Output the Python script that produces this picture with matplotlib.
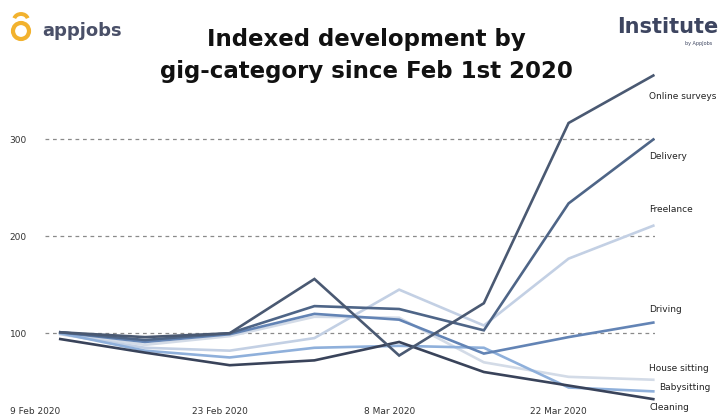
import numpy as np
import matplotlib
matplotlib.use("Agg")
import matplotlib.pyplot as plt
import matplotlib.transforms as mtransforms
from matplotlib.patches import Circle, Arc

# weekly dates
dates = ["9 Feb 2020", "16 Feb 2020", "23 Feb 2020", "1 Mar 2020",
         "8 Mar 2020", "15 Mar 2020", "22 Mar 2020", "29 Mar 2020"]

online_surveys = [101, 96, 100, 156, 77, 131, 317, 366]
delivery = [101, 93, 100, 128, 125, 103, 234, 300]
freelance = [99, 85, 82, 95, 145, 108, 177, 211]
driving = [101, 91, 99, 120, 114, 79, 96, 111]
house_sitting = [100, 88, 97, 117, 116, 70, 55, 52]
babysitting = [100, 82, 75, 85, 87, 85, 44, 40]
cleaning = [94, 80, 67, 72, 91, 60, 46, 32]

series = [
    ("House sitting", house_sitting, "#d3dbe7"),
    ("Freelance", freelance, "#c3d0e4"),
    ("Babysitting", babysitting, "#8fb0db"),
    ("Driving", driving, "#6384b5"),
    ("Delivery", delivery, "#4e6587"),
    ("Cleaning", cleaning, "#39435a"),
    ("Online surveys", online_surveys, "#4a5972"),
]
# label positions (value units), put a bit away from line ends
label_y = {"Online surveys": 344, "Delivery": 282, "Freelance": 228,
           "Driving": 124, "House sitting": 64, "Babysitting": 44,
           "Cleaning": 23}

x = np.arange(len(dates))

fig = plt.figure(figsize=(7.25, 4.17), dpi=100)
ax = fig.add_axes([45 / 725, 14 / 417, 610 / 725, 343 / 417])

for name, vals, col in series:
    ax.plot(x, vals, color=col, lw=1.9, solid_joinstyle="miter", zorder=3)

for v in [100, 200, 300]:
    ax.axhline(v, color="#8a8a8a", lw=0.9, ls=(0, (3, 3)), zorder=1)

ax.set_xlim(-0.18, 7.02)
ax.set_ylim(28, 382)
for s in ax.spines.values():
    s.set_visible(False)

ax.set_yticks([100, 200, 300])
ax.set_yticklabels(["100", "200", "300"], fontsize=6.5, color="#333333")
ax.tick_params(axis="y", length=0, pad=13)

ticks = [0, 2, 4, 6]
ax.set_xticks(ticks)
ax.set_xticklabels([dates[i] for i in ticks], fontsize=6.5, color="#333333")
ax.tick_params(axis="x", length=0, pad=3)
for i, lab in enumerate(ax.get_xticklabels()):
    dx = -25 if i == 0 else -10
    lab.set_transform(lab.get_transform() +
                      mtransforms.ScaledTranslation(dx / 100, 0, fig.dpi_scale_trans))

for name, vals, col in series:
    xo = 7.12 if name == "Babysitting" else 7.0
    ax.text(xo - 0.05, label_y[name], name, fontsize=6.5, color="#222222",
            ha="left", va="center", clip_on=False,
            transform=ax.transData)

# title
fig.text(0.505, 0.905, "Indexed development by", ha="center", va="center",
         fontsize=16.5, fontweight="bold", color="#111111")
fig.text(0.505, 0.828, "gig-category since Feb 1st 2020", ha="center", va="center",
         fontsize=16.5, fontweight="bold", color="#111111")

# appjobs logo
lax = fig.add_axes([5 / 725, 372 / 417, 34 / 725, 40 / 417])
lax.set_xlim(0, 34)
lax.set_ylim(0, 40)
lax.set_aspect("equal")
lax.axis("off")
lax.add_patch(Circle((16, 14), 8, fill=False, ec="#f2b22e", lw=3.0))
lax.add_patch(Arc((16, 25), 14, 12, theta1=15, theta2=165, ec="#f2b22e", lw=2.8))
fig.text(42 / 725, 1 - 31 / 417, "appjobs", fontsize=13, color="#4a5068",
         ha="left", va="center", fontweight="bold")

fig.text(718 / 725, 1 - 27 / 417, "Institute", fontsize=15, color="#3d4560",
         ha="right", va="center", fontweight="bold")
fig.text(712 / 725, 1 - 43 / 417, "by AppJobs", fontsize=3.5, color="#3d4560",
         ha="right", va="center")

fig.savefig("out.png", dpi=100)
